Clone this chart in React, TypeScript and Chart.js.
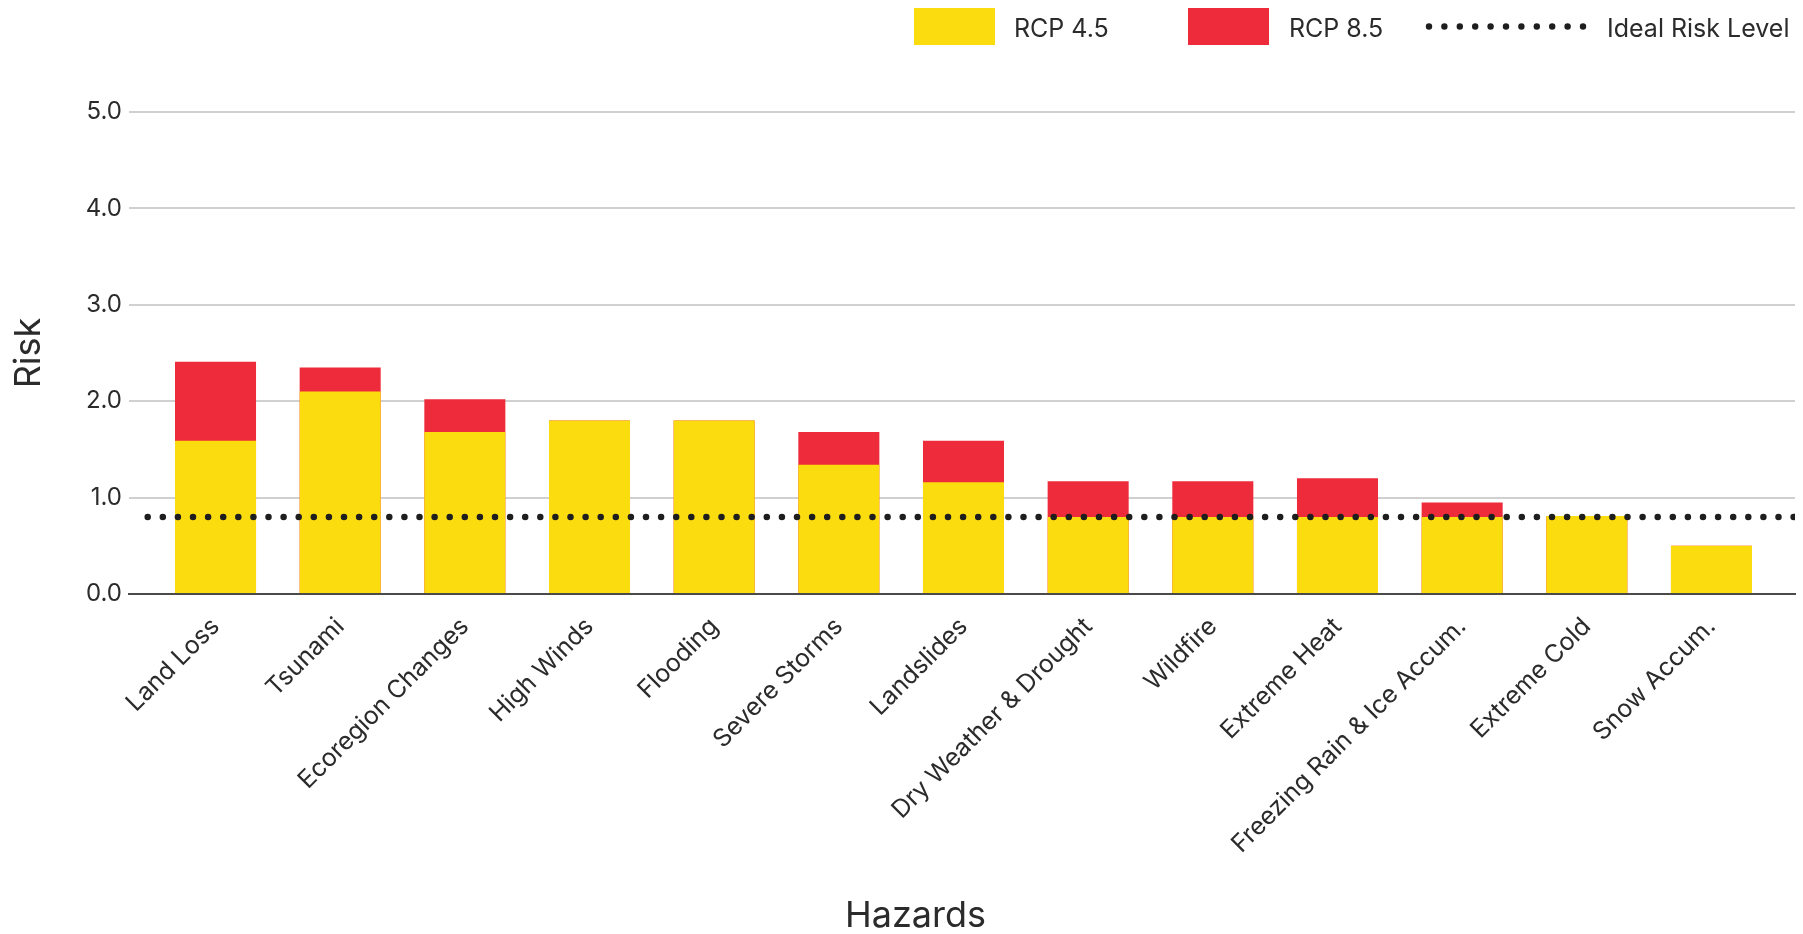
import { useEffect, useRef } from "react";
import { Chart, registerables } from "chart.js";

Chart.register(...registerables);

// ---------------- data ----------------
const hazards = [
  "Land Loss",
  "Tsunami",
  "Ecoregion Changes",
  "High Winds",
  "Flooding",
  "Severe Storms",
  "Landslides",
  "Dry Weather & Drought",
  "Wildfire",
  "Extreme Heat",
  "Freezing Rain & Ice Accum.",
  "Extreme Cold",
  "Snow Accum.",
];
const rcp45 = [1.59, 2.1, 1.68, 1.8, 1.8, 1.34, 1.16, 0.8, 0.8, 0.8, 0.8, 0.81, 0.5];
const rcp85 = [2.41, 2.35, 2.02, 1.8, 1.8, 1.68, 1.59, 1.17, 1.17, 1.2, 0.95, 0.81, 0.5];
const idealRiskLevel = 0.8;
const yTickValues = [0, 1, 2, 3, 4, 5];
const seriesLabels = ["RCP 4.5", "RCP 8.5", "Ideal Risk Level"];
const xAxisTitle = "Hazards";
const yAxisTitle = "Risk";

// ---------------- styles / layout ----------------
const YELLOW = "#FBDD0F";
const RED = "#EE2B3B";
const DOT = "#1e1e1e";
const TEXT = "#2b2b2b";
const FONT = "Inter, 'Noto Sans', sans-serif";
const X_MIN = -0.694;
const X_MAX = 12.67;
const LINE_START = -0.544;

const overlayPlugin = {
  id: "overlay",
  afterDraw(chart: any) {
    const ctx = chart.ctx as CanvasRenderingContext2D;
    const ds = chart.data.datasets;
    ctx.save();
    ctx.font = `25px ${FONT}`;
    ctx.fillStyle = TEXT;
    ctx.textBaseline = "alphabetic";
    const boxY = 8;
    const boxH = 37;
    const textBase = 37;
    // legend item 0
    ctx.fillStyle = ds[0].backgroundColor;
    ctx.fillRect(914, boxY, 81, boxH);
    ctx.fillStyle = TEXT;
    ctx.fillText(ds[0].label, 1014, textBase);
    // legend item 1
    ctx.fillStyle = ds[1].backgroundColor;
    ctx.fillRect(1188, boxY, 81, boxH);
    ctx.fillStyle = TEXT;
    ctx.fillText(ds[1].label, 1289, textBase);
    // legend item 2 (dotted)
    ctx.fillStyle = ds[2].borderColor;
    for (let k = 0; k < 11; k++) {
      ctx.beginPath();
      ctx.arc(1429 + k * 15.4, 26.5, 3.2, 0, Math.PI * 2);
      ctx.fill();
    }
    ctx.fillStyle = TEXT;
    ctx.fillText(ds[2].label, 1607, textBase);

    // x axis title
    ctx.font = `36px ${FONT}`;
    ctx.textAlign = "center";
    ctx.fillText(xAxisTitle, 915.5, 927);
    ctx.restore();
  },
};

export default function App() {
  const ref = useRef<HTMLCanvasElement>(null);

  useEffect(() => {
    const chart = new Chart(ref.current as HTMLCanvasElement, {
      type: "bar",
      data: {
        datasets: [
          {
            type: "bar",
            label: seriesLabels[0],
            data: rcp45.map((v, i) => ({ x: i, y: v })),
            backgroundColor: YELLOW,
            borderWidth: 0,
            grouped: false,
            categoryPercentage: 0.65,
            barPercentage: 1,
            order: 1,
          } as any,
          {
            type: "bar",
            label: seriesLabels[1],
            data: rcp85.map((v, i) => ({ x: i, y: v })),
            backgroundColor: RED,
            borderWidth: 0,
            grouped: false,
            categoryPercentage: 0.65,
            barPercentage: 1,
            order: 2,
          } as any,
          {
            type: "line",
            label: seriesLabels[2],
            data: [
              { x: LINE_START, y: idealRiskLevel },
              { x: X_MAX, y: idealRiskLevel },
            ],
            borderColor: DOT,
            backgroundColor: DOT,
            borderWidth: 6.5,
            borderDash: [0, 15.1],
            borderCapStyle: "round",
            pointRadius: 0,
            fill: false,
            order: 0,
          } as any,
        ],
      },
      plugins: [overlayPlugin],
      options: {
        responsive: false,
        animation: false,
        devicePixelRatio: 1,
        layout: { padding: { top: 112, right: 8, bottom: 0, left: 0 } },
        plugins: {
          legend: { display: false },
          tooltip: { enabled: false },
        },
        scales: {
          x: {
            type: "linear",
            offset: false,
            min: X_MIN,
            max: X_MAX,
            afterBuildTicks: (axis: any) => {
              axis.ticks = hazards.map((_, i) => ({ value: i }));
            },
            afterFit: (axis: any) => {
              axis.height = 340;
              axis.paddingLeft = 0;
              axis.paddingRight = 0;
            },
            grid: { display: false, drawTicks: false, offset: false },
            border: { display: true, color: "#4a4a4a", width: 2 },
            ticks: {
              autoSkip: false,
              maxRotation: 45,
              minRotation: 45,
              padding: 18,
              color: TEXT,
              font: { family: FONT, size: 24.8 },
              callback: (v: any) => hazards[v] ?? "",
            },
          },
          y: {
            min: 0,
            max: 5,
            afterBuildTicks: (axis: any) => {
              axis.ticks = yTickValues.map((v) => ({ value: v }));
            },
            afterFit: (axis: any) => {
              axis.width = 129;
            },
            grid: { color: "#d0d0d0", lineWidth: 2, drawTicks: false },
            border: { display: false },
            ticks: {
              padding: 7,
              color: TEXT,
              font: { family: FONT, size: 24 },
              callback: (v: any) => Number(v).toFixed(1),
            },
            title: {
              display: true,
              text: yAxisTitle,
              color: TEXT,
              font: { family: FONT, size: 36 },
              padding: { top: 8, bottom: 0 },
            },
          },
        },
      } as any,
    });
    return () => chart.destroy();
  }, []);

  return (
    <div style={{ position: "absolute", left: 0, top: 0, width: 1803, height: 934 }}>
      <canvas ref={ref} width={1803} height={934} style={{ display: "block", width: 1803, height: 934 }} />
    </div>
  );
}
